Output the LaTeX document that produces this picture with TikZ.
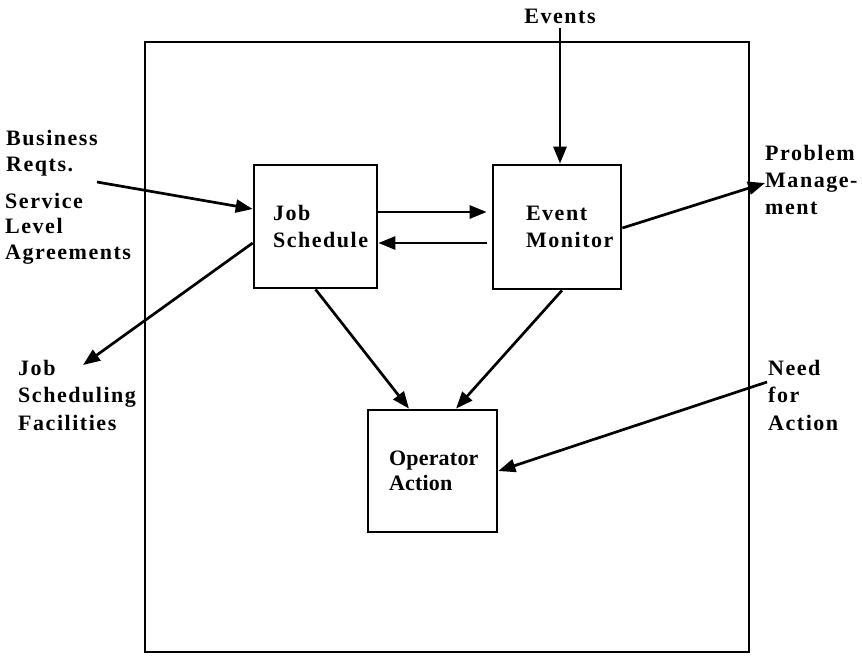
\documentclass[tikz,border=0pt]{standalone}
\usepackage{fontspec}
\setmainfont{Liberation Serif}[LetterSpace=7]
\usetikzlibrary{arrows.meta}
\begin{document}
\begin{tikzpicture}[x=1pt,y=-1pt,
  txt/.style={font=\fontsize{22}{27.5}\selectfont\bfseries},
  lbl/.style={txt, align=left, inner sep=0pt, anchor=base west},
  block/.style={draw, line width=2.7pt, txt, align=left, inner ysep=0pt},
  flow/.style={line width=2.7pt, -{Triangle[length=17pt,width=13pt]}}]
\useasboundingbox (0,0) rectangle (862,657);

% enclosing frame
\node[draw, line width=2.7pt, minimum width=604pt, minimum height=610pt, inner sep=0pt] (frame) at (447,347) {};

% function blocks (text set flush left inside each box)
\node[block, minimum width=123pt, minimum height=123pt, inner xsep=19pt, text width=85pt] (js) at (315.5,226.5) {Job\\Schedule};
\node[block, minimum width=128pt, minimum height=124pt, inner xsep=33pt, text width=62pt] (em) at (557,227) {Event\\Monitor};
\node[block, minimum width=129pt, minimum height=122pt, inner xsep=21pt, text width=87pt,
      font=\fontsize{22}{25.5}\selectfont\bfseries\addfontfeature{LetterSpace=1}] (oa) at (432.5,471) {Operator\\Action};

% outside labels (anchored at the baseline of their last line)
\node[lbl, font=\fontsize{22}{25.5}\selectfont\bfseries] (bus) at (6,171) {Business\\Reqts.};
\node[lbl, font=\fontsize{22}{25.5}\selectfont\bfseries] (sla) at (5,259) {Service\\Level\\Agreements};
\node[lbl] (jsf) at (18,430) {Job\\Scheduling\\Facilities};
\node[txt, inner sep=0pt, anchor=base] (ev) at (560,23) {Events};
\node[lbl, font=\fontsize{22}{27}\selectfont\bfseries] (pm) at (765,214) {Problem\\Manage-\\ment};
\node[lbl] (nfa) at (768,430) {Need\\for\\Action};

% free ends
\coordinate (busend) at (97,182);
\coordinate (jsfend) at (83,365);
\coordinate (evend) at (560,28);
\coordinate (pmend) at (765,183);
\coordinate (nfaend) at (767,382);

% connectors
\draw[flow] (busend) -- ([yshift=17.5pt]js.west);
\draw[flow] ([yshift=-16.5pt]js.west) -- (jsfend);
\draw[flow] (evend) -- (evend |- em.north);
\draw[flow, shorten >=5pt] ([yshift=14.5pt]js.east) -- ([yshift=14.5pt]js.east -| em.west);
\draw[flow, shorten <=5pt] ([yshift=-16.5pt]js.east -| em.west) -- ([yshift=-16.5pt]js.east);
\draw[flow] ([yshift=-1pt]em.east) -- (pmend);
\draw[flow] (js.south) -- ([xshift=-23.5pt]oa.north);
\draw[flow] ([xshift=5pt]em.south) -- ([xshift=23.5pt]oa.north);
\draw[flow] (nfaend) -- (oa.east);
\end{tikzpicture}
\end{document}
